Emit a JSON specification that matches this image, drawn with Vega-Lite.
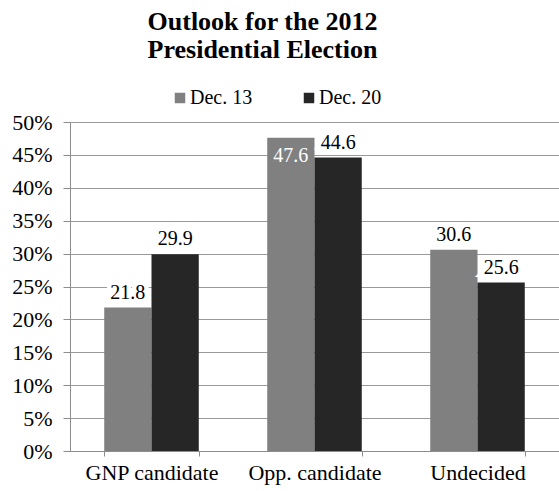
{
  "$schema": "https://vega.github.io/schema/vega-lite/v6.json",
  "width": 489,
  "height": 329,
  "autosize": {"type": "none"},
  "padding": {"left": 70, "top": 122, "right": 0, "bottom": 40},
  "background": "white",
  "title": {
    "text": ["Outlook for the 2012", "Presidential Election"],
    "font": "Liberation Serif, Times New Roman, serif",
    "fontSize": 26,
    "fontWeight": "bold",
    "color": "#000000",
    "anchor": "middle",
    "dx": -52,
    "lineHeight": 28,
    "offset": 25
  },
  "config": {
    "view": {"stroke": null},
    "font": "Liberation Serif, Times New Roman, serif",
    "text": {"font": "Liberation Serif, Times New Roman, serif"},
    "axis": {"labelFont": "Liberation Serif, Times New Roman, serif"},
    "legend": {"labelFont": "Liberation Serif, Times New Roman, serif"}
  },
  "data": {
    "values": [
      {"category": "GNP candidate", "series": "Dec. 13", "value": 21.8},
      {"category": "GNP candidate", "series": "Dec. 20", "value": 29.9},
      {"category": "Opp. candidate", "series": "Dec. 13", "value": 47.6},
      {"category": "Opp. candidate", "series": "Dec. 20", "value": 44.6},
      {"category": "Undecided", "series": "Dec. 13", "value": 30.6},
      {"category": "Undecided", "series": "Dec. 20", "value": 25.6}
    ]
  },
  "encoding": {
    "x": {
      "field": "category",
      "type": "nominal",
      "sort": null,
      "scale": {"paddingInner": 0.42, "paddingOuter": 0.21},
      "axis": {
        "title": null,
        "labelAngle": 0,
        "labelFontSize": 22,
        "labelColor": "#000000",
        "domainColor": "#8c8c8c",
        "tickColor": "#8c8c8c",
        "tickSize": 5,
        "tickBand": "extent",
        "labelPadding": 6
      }
    },
    "xOffset": {"field": "series", "type": "nominal", "scale": {"paddingInner": 0, "paddingOuter": 0}},
    "y": {
      "field": "value",
      "type": "quantitative",
      "scale": {"domain": [0, 50], "nice": false},
      "axis": {
        "title": null,
        "values": [0, 5, 10, 15, 20, 25, 30, 35, 40, 45, 50],
        "labelExpr": "datum.value + '%'",
        "labelFontSize": 22,
        "labelColor": "#000000",
        "domainColor": "#8c8c8c",
        "tickColor": "#8c8c8c",
        "tickSize": 7,
        "labelPadding": 11,
        "grid": true,
        "gridColor": "#999999",
        "gridWidth": 1
      }
    }
  },
  "layer": [
    {
      "mark": {"type": "bar"},
      "encoding": {
        "color": {
          "field": "series",
          "type": "nominal",
          "scale": {"range": ["#808080", "#262626"]},
          "legend": {
            "title": null,
            "orient": "none",
            "direction": "horizontal",
            "legendX": 100,
            "legendY": -34,
            "symbolType": "square",
            "symbolSize": 110,
            "symbolStrokeWidth": 0,
            "labelFontSize": 20,
            "labelColor": "#000000",
            "labelOffset": 0,
            "columnPadding": 46
          }
        }
      }
    },
    {
      "transform": [{"filter": "datum.value < 46"}],
      "mark": {"type": "text", "baseline": "alphabetic", "dy": -9, "fontSize": 20, "color": "white", "stroke": "white", "strokeWidth": 9},
      "encoding": {"text": {"field": "value", "type": "quantitative", "format": ".1f"}}
    },
    {
      "transform": [{"filter": "datum.value < 46"}],
      "mark": {"type": "text", "baseline": "alphabetic", "dy": -9, "fontSize": 20, "color": "#000000"},
      "encoding": {"text": {"field": "value", "type": "quantitative", "format": ".1f"}}
    },
    {
      "transform": [{"filter": "datum.value >= 46"}],
      "mark": {"type": "text", "baseline": "top", "dy": 8, "fontSize": 20, "color": "white"},
      "encoding": {"text": {"field": "value", "type": "quantitative", "format": ".1f"}}
    }
  ]
}
